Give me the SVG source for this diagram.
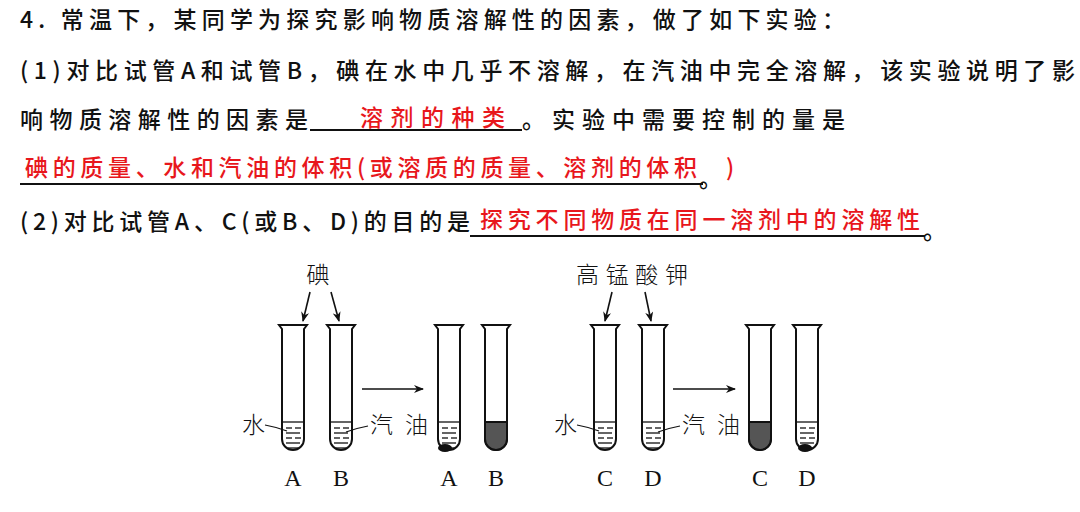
<svg xmlns="http://www.w3.org/2000/svg" width="1080" height="512" viewBox="0 0 1080 512">
<style>
.t{font-family:"Noto Sans CJK SC","Noto Sans",sans-serif;font-size:23px;fill:#111;font-weight:500}
.r{fill:#e8171c}
.u{stroke:#111;stroke-width:2}
.tube{fill:#fff;stroke:#111;stroke-width:2}
.lq{stroke:#111;stroke-width:1.3}
.lab{font-family:"Liberation Serif",serif;font-size:24px;fill:#111}
.cl{font-family:"Noto Sans CJK SC",sans-serif;font-size:23px;fill:#111;font-weight:300}
.ar{stroke:#111;stroke-width:1.6;fill:none;marker-end:url(#ah)}
</style>
<defs>
<marker id="ah" markerWidth="10" markerHeight="8" refX="9" refY="4" orient="auto" markerUnits="userSpaceOnUse"><path d="M0,0 L10,4 L0,8 L3,4 Z" fill="#111"/></marker>
<g id="tb"><path class="tube" d="M-14,0 L14,0 L11,4 L11,114 A11,11 0 0 1 -11,114 L-11,4 Z"/></g>
<g id="ws"><g class="lq"><line x1="-11" y1="97" x2="11" y2="97"/><line x1="-7" y1="103" x2="-1" y2="103"/><line x1="2" y1="103" x2="8" y2="103"/><line x1="-7" y1="108" x2="7" y2="108"/><line x1="-7" y1="113" x2="-1" y2="113"/><line x1="2" y1="113" x2="8" y2="113"/><line x1="-7" y1="118" x2="7" y2="118"/><line x1="-5" y1="123" x2="5" y2="123"/></g></g>
<path id="fill" d="M-11,97 L11,97 L11,114 A11,11 0 0 1 -11,114 Z" fill="#555" stroke="#111" stroke-width="2"/>
</defs>
<g id="text">
<text class="t" x="20" y="28" textLength="825" lengthAdjust="spacing">4. 常温下，某同学为探究影响物质溶解性的因素，做了如下实验：</text>
<text class="t" x="20" y="79" textLength="1055" lengthAdjust="spacing">(1)对比试管A和试管B，碘在水中几乎不溶解，在汽油中完全溶解，该实验说明了影</text>
<text class="t" x="20" y="128" textLength="288" lengthAdjust="spacing">响物质溶解性的因素是</text>
<line class="u" x1="310" y1="130" x2="522" y2="130"/>
<text class="t r" x="360" y="126" textLength="145" lengthAdjust="spacing">溶剂的种类</text>
<text class="t" x="522" y="128" textLength="323" lengthAdjust="spacing">。实验中需要控制的量是</text>
<line class="u" x1="20" y1="184" x2="703" y2="184"/>
<text class="t r" x="25" y="176" textLength="672" lengthAdjust="spacing">碘的质量、水和汽油的体积(或溶质的质量、溶剂的体积</text>
<text class="t" x="699" y="187">。</text>
<text class="t r" x="726" y="176">)</text>
<text class="t" x="20" y="230" textLength="450" lengthAdjust="spacing">(2)对比试管A、C(或B、D)的目的是</text>
<line class="u" x1="470" y1="236" x2="925" y2="236"/>
<text class="t r" x="480" y="228" textLength="440" lengthAdjust="spacing">探究不同物质在同一溶剂中的溶解性</text>
<text class="t" x="923" y="239">。</text>
</g>
<g id="tubeA"><use href="#tb" x="293" y="325"/><use href="#ws" x="293" y="325"/></g>
<g id="tubeB"><use href="#tb" x="341" y="325"/><use href="#ws" x="341" y="325"/></g>
<g id="tubeA2"><use href="#tb" x="449" y="325"/><use href="#ws" x="449" y="325"/><ellipse cx="445" cy="448" rx="7" ry="4" fill="#111"/></g>
<g id="tubeB2"><use href="#tb" x="496" y="325"/><use href="#fill" x="496" y="325"/></g>
<g id="tubeC"><use href="#tb" x="605" y="325"/><use href="#ws" x="605" y="325"/></g>
<g id="tubeD"><use href="#tb" x="653" y="325"/><use href="#ws" x="653" y="325"/></g>
<g id="tubeC2"><use href="#tb" x="760" y="325"/><use href="#fill" x="760" y="325"/></g>
<g id="tubeD2"><use href="#tb" x="807" y="325"/><use href="#ws" x="807" y="325"/><ellipse cx="805" cy="448" rx="7" ry="4" fill="#111"/></g>
<g id="labels">
<text class="lab" x="293" y="486" text-anchor="middle">A</text>
<text class="lab" x="341" y="486" text-anchor="middle">B</text>
<text class="lab" x="449" y="486" text-anchor="middle">A</text>
<text class="lab" x="496" y="486" text-anchor="middle">B</text>
<text class="lab" x="605" y="486" text-anchor="middle">C</text>
<text class="lab" x="653" y="486" text-anchor="middle">D</text>
<text class="lab" x="760" y="486" text-anchor="middle">C</text>
<text class="lab" x="807" y="486" text-anchor="middle">D</text>
<text class="cl" x="318" y="283" text-anchor="middle">碘</text>
<text class="cl" x="632" y="283" text-anchor="middle" textLength="112" lengthAdjust="spacing">高锰酸钾</text>
<text class="cl" x="242" y="433">水</text>
<text class="cl" x="370" y="433" textLength="58" lengthAdjust="spacing">汽油</text>
<text class="cl" x="554" y="433">水</text>
<text class="cl" x="682" y="433" textLength="58" lengthAdjust="spacing">汽油</text>
</g>
<g id="connectors">
<line class="ar" x1="310" y1="292" x2="303" y2="321"/>
<line class="ar" x1="331" y1="292" x2="339" y2="321"/>
<line class="ar" x1="612" y1="292" x2="605" y2="321"/>
<line class="ar" x1="645" y1="292" x2="651" y2="321"/>
<line class="ar" x1="362" y1="389" x2="423" y2="389"/>
<line class="ar" x1="673" y1="389" x2="735" y2="389"/>
<path d="M265,425 Q276,427 287,431" fill="none" stroke="#111" stroke-width="1.2"/>
<path d="M368,426 Q357,428 346,432" fill="none" stroke="#111" stroke-width="1.2"/>
<path d="M577,425 Q588,427 599,431" fill="none" stroke="#111" stroke-width="1.2"/>
<path d="M680,426 Q669,428 658,432" fill="none" stroke="#111" stroke-width="1.2"/>
</g>
</svg>
